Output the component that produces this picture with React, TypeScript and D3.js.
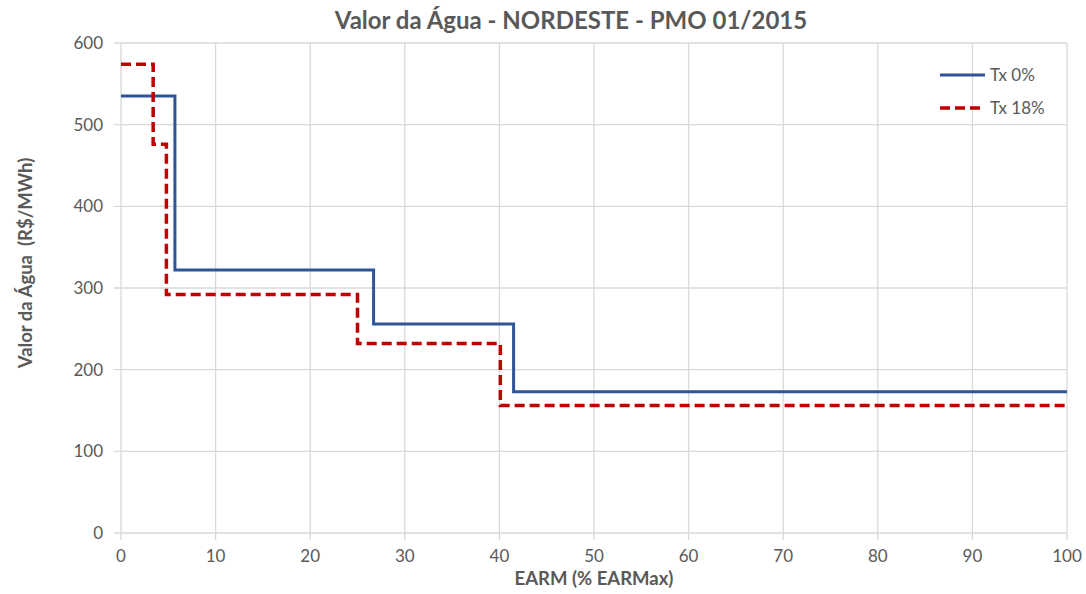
import React from "react";
import * as d3 from "d3";

const xTicks = [0, 10, 20, 30, 40, 50, 60, 70, 80, 90, 100];
const yTicks = [0, 100, 200, 300, 400, 500, 600];

// step points [EARM %, value]
const tx0: [number, number][] = [
  [0, 535], [5.7, 535], [5.7, 322], [26.7, 322], [26.7, 256], [41.5, 256], [41.5, 173], [100, 173],
];
const tx18: [number, number][] = [
  [0, 574], [3.4, 574], [3.4, 476], [4.8, 476], [4.8, 292], [25.0, 292], [25.0, 232], [40.1, 232], [40.1, 156], [100, 156],
];
const seriesNames = ["Tx 0%", "Tx 18%"];

const W = 1086, H = 594;
const L = 121, R = 1067, T = 43, B = 533;

export default function App() {
  const x = d3.scaleLinear().domain([0, 100]).range([L, R]);
  const y = d3.scaleLinear().domain([0, 600]).range([B, T]);
  const line = d3.line<[number, number]>().x(d => x(d[0])).y(d => y(d[1]));
  const gray = "#595959";
  const grid = "#d9d9d9";
  const font = "Lato, 'Open Sans', sans-serif";
  return (
    <svg width={W} height={H} style={{ position: "absolute", left: 0, top: 0 }} fontFamily={font}>
      <rect width={W} height={H} fill="#fff" />
      {yTicks.map(t => (
        <g key={"y" + t}>
          <line x1={L - 7} x2={R} y1={y(t)} y2={y(t)} stroke={grid} strokeWidth={1.3} />
          <text x={L - 18} y={y(t)} dy="0.35em" textAnchor="end" fontSize={17} fill={gray}>{t}</text>
        </g>
      ))}
      {xTicks.map(t => (
        <g key={"x" + t}>
          <line x1={x(t)} x2={x(t)} y1={T} y2={B + 7} stroke={grid} strokeWidth={1.3} />
          <text x={x(t)} y={B + 29} textAnchor="middle" fontSize={17} fill={gray}>{t}</text>
        </g>
      ))}
      <path d={line(tx0)!} fill="none" stroke="#2E5597" strokeWidth={3} />
      <path d={line(tx18)!} fill="none" stroke="#C00000" strokeWidth={3.5} strokeDasharray="10,5" />
      <text x={571} y={29} textAnchor="middle" fontSize={24} fontWeight="bold" fill={gray}>
        Valor da Água - NORDESTE - PMO 01/2015
      </text>
      <text x={594} y={585} textAnchor="middle" fontSize={18.5} fontWeight="bold" fill={gray}>EARM (% EARMax)</text>
      <text transform={`translate(32,${263}) rotate(-90)`} textAnchor="middle" fontSize={18.5} fontWeight="bold" fill={gray} style={{ whiteSpace: "pre" }}>
        {"Valor da Água  (R$/MWh)"}
      </text>
      <g>
        <line x1={940} x2={985} y1={75} y2={75} stroke="#2E5597" strokeWidth={3} />
        <text x={990} y={75} dy="0.35em" fontSize={17} fill={gray}>{seriesNames[0]}</text>
        <line x1={940} x2={985} y1={108} y2={108} stroke="#C00000" strokeWidth={3.5} strokeDasharray="10,5" />
        <text x={990} y={108} dy="0.35em" fontSize={17} fill={gray}>{seriesNames[1]}</text>
      </g>
    </svg>
  );
}
